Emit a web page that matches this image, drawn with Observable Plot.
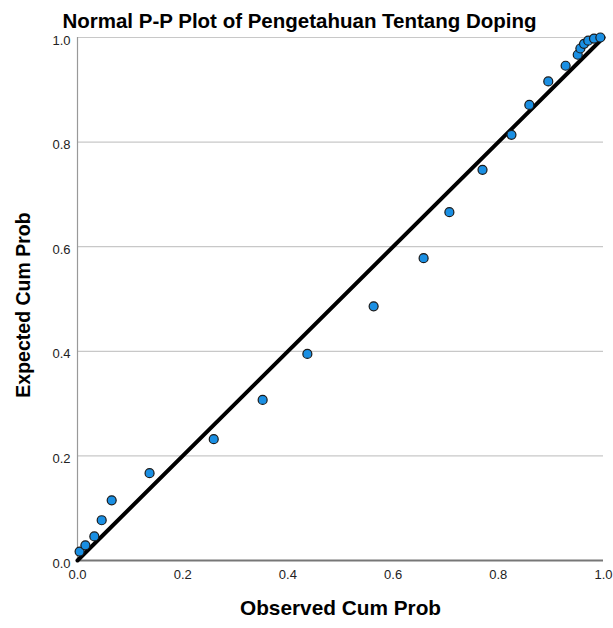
<!DOCTYPE html>
<html>
<head>
<meta charset="utf-8">
<script src="https://cdn.jsdelivr.net/npm/d3@7"></script>
<script src="https://cdn.jsdelivr.net/npm/@observablehq/plot@0.6"></script>
<style>
  html, body { margin: 0; padding: 0; background: #fff; }
  #chart { width: 613px; height: 628px; }
  svg { font-family: "Liberation Sans", Arial, sans-serif; }
</style>
</head>
<body>
<div id="chart"></div>
<script>
const titleText = "Normal P-P Plot of Pengetahuan Tentang Doping";
const xLabel = "Observed Cum Prob";
const yLabel = "Expected Cum Prob";
const tickValues = [0, 0.2, 0.4, 0.6, 0.8, 1.0];
const gridValues = [0.2, 0.4, 0.6, 0.8, 1.0];
const refLine = [0, 1];

const observed = [0.004, 0.015, 0.032, 0.046, 0.065, 0.137, 0.259, 0.352, 0.437, 0.563, 0.658, 0.707, 0.770, 0.825, 0.859, 0.895, 0.928, 0.951, 0.956, 0.963, 0.971, 0.982, 0.994];
const expected = [0.017, 0.029, 0.046, 0.077, 0.115, 0.167, 0.232, 0.307, 0.395, 0.486, 0.578, 0.666, 0.747, 0.814, 0.871, 0.916, 0.946, 0.967, 0.979, 0.988, 0.994, 0.998, 1.000];

const points = observed.map((x, i) => ({x, y: expected[i]}));

const chart = Plot.plot({
  width: 613,
  height: 628,
  marginLeft: 77,
  marginRight: 10,
  marginTop: 37,
  marginBottom: 68,
  style: {fontFamily: "Liberation Sans, Arial, sans-serif", fontSize: "13px", color: "#222", background: "#fff"},
  x: {domain: [0, 1], ticks: tickValues, tickFormat: d3.format(".1f")},
  y: {domain: [0, 1], ticks: tickValues, tickFormat: d3.format(".1f")},
  marks: [
    Plot.ruleY(gridValues, {stroke: "#c8c8c8", strokeWidth: 1.2, strokeOpacity: 1}),
    Plot.ruleX([0], {stroke: "#999", strokeWidth: 1.2}),
    Plot.ruleY([0], {stroke: "#777", strokeWidth: 2}),
    Plot.axisX({ticks: tickValues, tickFormat: d3.format(".1f"), tickSize: 0, tickPadding: 9, label: null, fontSize: 13, fill: "#222"}),
    Plot.axisY({ticks: tickValues, tickFormat: d3.format(".1f"), tickSize: 0, tickPadding: 7, dy: 3, label: null, fontSize: 13, fill: "#222"}),
    Plot.line(refLine, {x: d => d, y: d => d, stroke: "#000", strokeWidth: 4}),
    Plot.dot(points, {x: "x", y: "y", r: 4.5, fill: "#1a8fe3", stroke: "#1a1a1a", strokeWidth: 1.2}),
    Plot.text([titleText], {frameAnchor: "top", dx: -41, dy: -24, fontSize: 20.5, fontWeight: "bold", fill: "#000", text: d => d}),
    Plot.text([xLabel], {frameAnchor: "bottom", dy: 54, fontSize: 20.8, fontWeight: "bold", fill: "#000", text: d => d}),
    Plot.text([yLabel], {frameAnchor: "left", textAnchor: "middle", dx: -54, dy: 6, rotate: -90, fontSize: 19.5, fontWeight: "bold", fill: "#000", text: d => d})
  ]
});
document.getElementById("chart").appendChild(chart);
</script>
</body>
</html>
